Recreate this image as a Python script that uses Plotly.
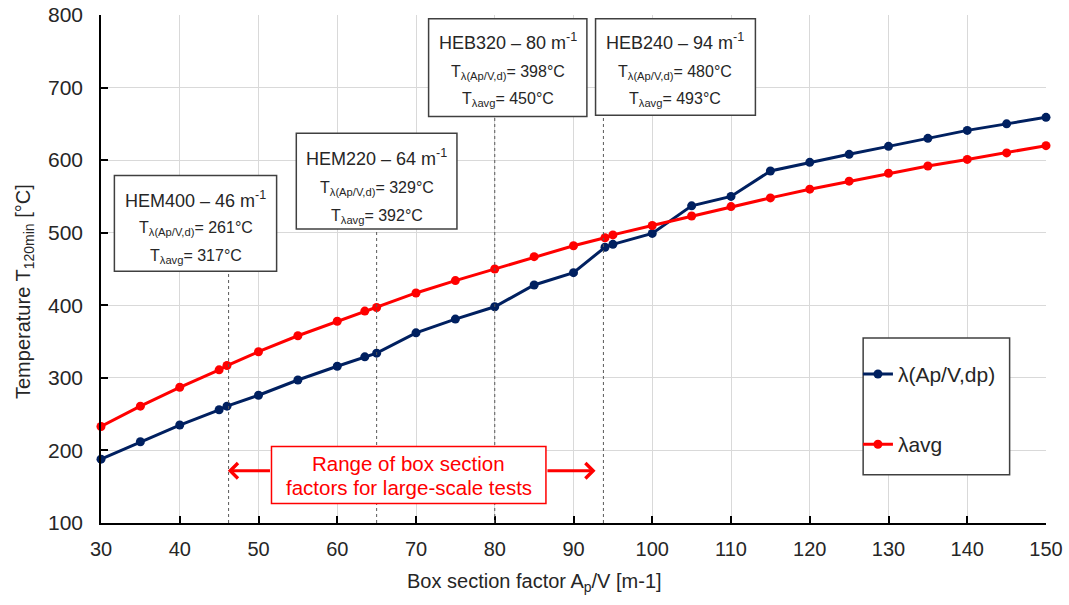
import plotly.graph_objects as go

# ---------------- data ----------------
ap_values = [30, 35, 40, 45, 46, 50, 55, 60, 63.5, 65, 70, 75, 80, 85, 90, 94, 95,
             100, 105, 110, 115, 120, 125, 130, 135, 140, 145, 150]
t_lambda_apv = [188, 212, 235, 256, 261, 276, 297, 316, 329, 334, 362, 381, 398, 428, 445, 480, 484,
                499, 537, 550, 585, 597, 608, 619, 630, 641, 650, 659]
t_lambda_avg = [233, 261, 287, 311, 317, 336, 358, 378, 392, 397, 417, 434, 450, 467, 482, 493, 497,
                510, 523, 536, 548, 560, 571, 582, 592, 601, 610, 620]

series_names = ["λ(Ap/V,dp)", "λavg"]
series_colors = ["#002060", "#FF0000"]

x_ticks = [30, 40, 50, 60, 70, 80, 90, 100, 110, 120, 130, 140, 150]
y_ticks = [100, 200, 300, 400, 500, 600, 700, 800]

sections = ["HEM400", "HEM220", "HEB320", "HEB240"]
section_factor = [46, 64, 80, 94]
sec_t_apv = [261, 329, 398, 480]
sec_t_avg = [317, 392, 450, 493]

FONT = "Liberation Sans, Arial, sans-serif"
TXT = "#262626"

fig = go.Figure()
for ys, name, col in zip([t_lambda_apv, t_lambda_avg], series_names, series_colors):
    fig.add_trace(go.Scatter(
        x=ap_values, y=ys, mode="lines+markers", name=name,
        line=dict(color=col, width=3), marker=dict(color=col, size=9),
        cliponaxis=False, legendgroup=name,
    ))

# ---------------- layout helpers (positions in axis units) ----------------
line_x = [46.2, 65, 80, 93.8]
boxes = [  # x0, x1, y_top, y_bottom, line centres
    (31.7, 52.3, 579, 447, [546, 506, 467]),
    (54.8, 75.2, 637, 505, [604, 561, 523]),
    (71.6, 91.7, 795, 660, [763, 721, 683]),
    (92.8, 113.1, 795, 662, [763, 721, 684]),
]

shapes = []
annotations = []
for lx, (x0, x1, yt, yb, lines) in zip(line_x, boxes):
    shapes.append(dict(type="line", xref="x", yref="y", x0=lx, x1=lx, y0=100, y1=yb,
                       line=dict(color="#595959", width=1, dash="dot"), layer="above"))
for (x0, x1, yt, yb, lines), nm, sf, ta, tv in zip(boxes, sections, section_factor, sec_t_apv, sec_t_avg):
    shapes.append(dict(type="rect", xref="x", yref="y", x0=x0, x1=x1, y0=yb, y1=yt,
                       line=dict(color="#404040", width=1.5), fillcolor="white", layer="above"))
    xc = (x0 + x1) / 2
    annotations.append(dict(x=xc, y=lines[0], xref="x", yref="y", showarrow=False,
                            text=f"{nm} – {sf} m<sup>-1</sup>",
                            font=dict(size=18, color=TXT, family=FONT)))
    annotations.append(dict(x=xc, y=lines[1], xref="x", yref="y", showarrow=False,
                            text=f"T<sub>λ(Ap/V,d)</sub>= {ta}°C",
                            font=dict(size=16, color=TXT, family=FONT)))
    annotations.append(dict(x=xc, y=lines[2], xref="x", yref="y", showarrow=False,
                            text=f"T<sub>λavg</sub>= {tv}°C",
                            font=dict(size=16, color=TXT, family=FONT)))

# range box with arrows
rx0, rx1, ryt, ryb = 51.65, 86.5, 205.5, 127
arrow_y = 172
for tip, tail in [(46.1, rx0), (92.8, rx1)]:
    annotations.append(dict(x=tip, y=arrow_y, ax=tail, ay=arrow_y, xref="x", yref="y", axref="x", ayref="y",
                            text="", showarrow=True, arrowhead=4, arrowsize=1.0, arrowwidth=3,
                            arrowcolor="#FF0000", standoff=0, startstandoff=0))
shapes.append(dict(type="rect", xref="x", yref="y", x0=rx0, x1=rx1, y0=ryb, y1=ryt,
                   line=dict(color="#FF0000", width=1.5), fillcolor="white", layer="above"))
annotations.append(dict(x=(rx0 + rx1) / 2, y=182, xref="x", yref="y", showarrow=False,
                        text="Range of box section", font=dict(size=20.5, color="#FF0000", family=FONT)))
annotations.append(dict(x=(rx0 + rx1) / 2, y=148.5, xref="x", yref="y", showarrow=False,
                        text="factors for large-scale tests", font=dict(size=20.5, color="#FF0000", family=FONT)))

# legend frame
shapes.append(dict(type="rect", xref="paper", yref="paper", x0=0.8065, x1=0.9615, y0=0.095, y1=0.364,
                   line=dict(color="#404040", width=1.5), fillcolor="white", layer="above"))

# axis titles
annotations.append(dict(x=534, y=582, showarrow=False,
                        text="Box section factor A<sub>p</sub>/V [m-1]",
                        font=dict(size=20, color=TXT, family=FONT)))
annotations.append(dict(x=25, y=292, showarrow=False, textangle=-90,
                        text="Temperature T<sub>120min</sub> [°C]",
                        font=dict(size=20, color=TXT, family=FONT)))
# convert pixel-placed titles to paper coordinates
L, R, T, B, W, H = 101, 23, 15, 82, 1069, 605
pw, ph = W - L - R, H - T - B
for a in annotations[-2:]:
    a["xref"], a["yref"] = "paper", "paper"
    a["xanchor"], a["yanchor"] = "center", "middle"
    a["x"] = (a["x"] - L) / pw
    a["y"] = (H - B - a["y"]) / ph

fig.update_layout(
    width=W, height=H,
    margin=dict(l=L, r=R, t=T, b=B, autoexpand=False),
    paper_bgcolor="white", plot_bgcolor="white",
    font=dict(family=FONT, size=17, color=TXT),
    shapes=shapes, annotations=annotations,
    legend=dict(x=0.801, y=0.333, xanchor="left", yanchor="top",
                bgcolor="rgba(0,0,0,0)", borderwidth=0,
                traceorder="grouped", tracegroupgap=40,
                font=dict(size=21, family=FONT, color=TXT)),
    showlegend=True,
)
fig.update_xaxes(range=[30, 150], tickvals=x_ticks, showgrid=True, gridcolor="#d9d9d9", gridwidth=1,
                 showline=True, linecolor="black", linewidth=1.5, ticks="inside", ticklen=7,
                 tickcolor="black", tickwidth=1.5, zeroline=False, automargin=False,
                 ticklabelstandoff=7,
                 tickfont=dict(size=20, family=FONT, color=TXT))
fig.update_yaxes(range=[100, 800], tickvals=y_ticks, showgrid=True, gridcolor="#d9d9d9", gridwidth=1,
                 showline=True, linecolor="black", linewidth=1.5, ticks="inside", ticklen=7,
                 tickcolor="black", tickwidth=1.5, zeroline=False, automargin=False,
                 ticklabelstandoff=12,
                 tickfont=dict(size=21, family=FONT, color=TXT))

fig.write_html("out.html")
